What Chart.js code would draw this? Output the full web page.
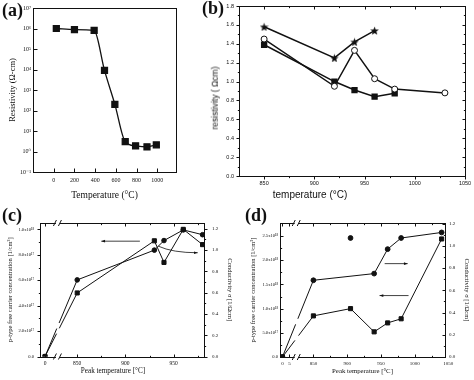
<!DOCTYPE html>
<html>
<head>
<meta charset="utf-8">
<script src="https://cdn.jsdelivr.net/npm/chart.js@4.4.0/dist/chart.umd.min.js"></script>
<style>
  body { margin: 0; background: #fff; }
  #wrap { position: relative; width: 474px; height: 380px; overflow: hidden; }
  canvas { position: absolute; }
  .tag { position: absolute; font-family: 'Liberation Serif', 'DejaVu Serif', serif; font-weight: bold; font-size: 18px; line-height: 1; color: #111; }
  .note { position: absolute; line-height: 1; color: #111; white-space: nowrap; transform: translate(-50%, -50%); }
  .sans { font-family: 'Liberation Sans', Arial, sans-serif; }
  .serif { font-family: 'Liberation Serif', 'DejaVu Serif', serif; }
  .up { transform: translate(-50%, -50%) rotate(-90deg); }
</style>
</head>
<body>
<div id="wrap">
  <canvas id="chart-a" width="237" height="210" style="left:0;top:0"></canvas>
  <canvas id="chart-b" width="274" height="210" style="left:200px;top:0"></canvas>
  <canvas id="chart-c" width="237" height="180" style="left:0;top:200px"></canvas>
  <canvas id="chart-d" width="237" height="180" style="left:237px;top:200px"></canvas>
  <div class="tag" style="left:2px;top:1px">(a)</div>
  <div class="tag" style="left:202px;top:-1px">(b)</div>
  <div class="tag" style="left:2px;top:206px">(c)</div>
  <div class="tag" style="left:245px;top:206px">(d)</div>
  <div class="note sans" style="left:310px;top:195px;font-size:10px">temperature (°C)</div>
  <div class="note sans up" style="left:215px;top:98px;font-size:8.5px">resistivity ( Ωcm)</div>
  <div class="note serif" style="left:113px;top:372px;font-size:7.2px">Peak temperature [°C]</div>
</div>
<script>
// ---- data ----

// (a) resistivity vs temperature, log scale
const aTemps = [25, 200, 390, 490, 590, 690, 790, 900, 990];
const aResistivity = [1.0e6, 8.9e5, 8.0e5, 9.0e3, 200, 3.0, 1.9, 1.7, 2.1];
const aXTicks = [0, 200, 400, 600, 800, 1000];
const aYExponents = [-1, 0, 1, 2, 3, 4, 5, 6, 7];

// (b) resistivity vs temperature, three series
const bStarTemps = [850, 920, 940, 960];
const bStarValues = [1.58, 1.25, 1.42, 1.54];
const bCircleTemps = [850, 920, 940, 960, 980, 1030];
const bCircleValues = [1.45, 0.95, 1.33, 1.03, 0.92, 0.88];
const bSquareTemps = [850, 920, 940, 960, 980];
const bSquareValues = [1.39, 1.0, 0.91, 0.84, 0.875];
const bXTicks = [850, 900, 950, 1000, 1050];
const bYTicks = [0, 0.2, 0.4, 0.6, 0.8, 1.0, 1.2, 1.4, 1.6, 1.8];

// (c) carrier concentration (left) and conductivity (right) vs peak temperature
const cTemps = [0, 850, 930, 940, 960, 980];
const cConcentration = [0, 5.0e17, 9.1e17, 7.4e17, 1.0e18, 8.8e17];
const cConductivity = [0, 0.72, 1.0, 1.09, 1.19, 1.145];
const cXTicks = [0, 850, 900, 950];
const cLeftTicks = [0, 2e17, 4e17, 6e17, 8e17, 1e18];
const cLeftTickLabels = ['0.0', '2.0x10¹⁷', '4.0x10¹⁷', '6.0x10¹⁷', '8.0x10¹⁷', '1.0x10¹⁸'];
const cRightTicks = [0, 0.2, 0.4, 0.6, 0.8, 1.0, 1.2];

// (d) same quantities, second sample
const dTemps = [0, 850, 905, 940, 960, 980, 1040];
const dConcentration = [0, 8.5e17, 1.0e18, 5.2e17, 7.05e17, 7.9e17, 2.44e18];
const dCondTemps = [0, 850, 940, 960, 980, 1040];
const dConductivity = [0, 0.69, 0.75, 0.97, 1.07, 1.12];
const dLoneTemps = [905];
const dLoneConductivity = [1.07];
const dXTicks = [0, 5, 850, 900, 950, 1000, 1050];
const dLeftTicks = [0, 5e17, 1e18, 1.5e18, 2e18, 2.5e18];
const dLeftTickLabels = ['0.0', '5.0x10¹⁷', '1.0x10¹⁸', '1.5x10¹⁸', '2.0x10¹⁸', '2.5x10¹⁸'];
const dRightTicks = [0, 0.2, 0.4, 0.6, 0.8, 1.0, 1.2];

// ---- broken x axes: the low temperatures are squeezed in left of the break ----
const C_ZERO = 816.6, C_BREAK = 830;
const D_ZERO = 804.1, D_STRETCH = 2.07, D_BREAK = 825.3;
const cx = t => t < 100 ? C_ZERO + t : t;
const dx = t => t < 100 ? D_ZERO + t * D_STRETCH : t;

const SERIF = "'Liberation Serif', 'DejaVu Serif', serif";
const SANS = "'Liberation Sans', Arial, sans-serif";
const INK = '#111';

const sup = { '-': '⁻', '0': '⁰', '1': '¹', '2': '²', '3': '³', '4': '⁴', '5': '⁵', '6': '⁶', '7': '⁷', '8': '⁸', '9': '⁹' };
const pow10 = e => '10' + String(e).split('').map(c => sup[c]).join('');

function points(xs, ys, map) {
    return xs.map((x, i) => ({ x: map ? map(x) : x, y: ys[i] }));
}

function fixedTicks(values) {
    return scale => { scale.ticks = values.map(v => ({ value: v })); };
}

function fixSize(w, h) {
    return scale => {
        if (w !== undefined) scale.width = w;
        if (h !== undefined) scale.height = h;
        scale.paddingLeft = scale.paddingRight = scale.paddingTop = scale.paddingBottom = 0;
    };
}

function minorsBetween(values, n) {
    const out = [];
    for (let i = 0; i < values.length - 1; i++) {
        for (let k = 1; k < n; k++) out.push(values[i] + (values[i + 1] - values[i]) * k / n);
    }
    return out;
}

// gap in the first segment where it crosses the axis break
function breakDash(brk) {
    return s => {
        if (s.p0DataIndex !== 0) return undefined;
        const bx = s.chart.scales.x.getPixelForValue(brk);
        const ddx = s.p1.x - s.p0.x, ddy = s.p1.y - s.p0.y;
        const len = Math.hypot(ddx, ddy);
        const d = len * (bx - s.p0.x) / ddx;
        return [d - 3, 6, len];
    };
}

function starImage(size) {
    const c = document.createElement('canvas');
    c.width = c.height = size;
    const g = c.getContext('2d');
    const r = size / 2, ri = r * 0.42;
    g.beginPath();
    for (let i = 0; i < 10; i++) {
        const a = -Math.PI / 2 + i * Math.PI / 5;
        const rr = i % 2 === 0 ? r : ri;
        g.lineTo(r + rr * Math.cos(a), r + 0.5 + rr * Math.sin(a));
    }
    g.closePath();
    g.fillStyle = INK;
    g.fill();
    return c;
}

// frame, tick marks, axis breaks and arrows
const framePlugin = {
    id: 'frame',
    afterDatasetsDraw(chart, args, o) {
        const { ctx, chartArea: a } = chart;
        ctx.save();
        ctx.strokeStyle = INK;
        ctx.lineWidth = 1;
        ctx.strokeRect(Math.round(a.left) + 0.5, Math.round(a.top) + 0.5,
            Math.round(a.right - a.left), Math.round(a.bottom - a.top));

        const mark = (side, p, len) => {
            const horiz = side === 'bottom' || side === 'top';
            if (horiz ? (p < a.left - 1 || p > a.right + 1) : (p < a.top - 1 || p > a.bottom + 1)) return;
            p = Math.round(p) + 0.5;
            const L = Math.round(a.left) + 0.5, R = Math.round(a.right) + 0.5;
            const T = Math.round(a.top) + 0.5, B = Math.round(a.bottom) + 0.5;
            ctx.beginPath();
            if (side === 'bottom') { ctx.moveTo(p, B); ctx.lineTo(p, B - len); }
            if (side === 'top') { ctx.moveTo(p, T); ctx.lineTo(p, T + len); }
            if (side === 'left') { ctx.moveTo(L, p); ctx.lineTo(L + len, p); }
            if (side === 'right') { ctx.moveTo(R, p); ctx.lineTo(R - len, p); }
            ctx.stroke();
        };

        (o.axes || []).forEach(ax => {
            const s = chart.scales[ax.id];
            Object.entries(ax.sides).forEach(([side, len]) => {
                ax.major.forEach(v => mark(side, s.getPixelForValue(v), len));
                (ax.minor || []).forEach(v => mark(side, s.getPixelForValue(v), len * 0.55));
            });
        });

        if (o.breakAt !== undefined) {
            const p = chart.scales.x.getPixelForValue(o.breakAt);
            [a.top, a.bottom].forEach(y => {
                ctx.fillStyle = '#fff';
                ctx.fillRect(p - 2, y - 1.5, 4, 3);
                ctx.beginPath();
                ctx.moveTo(p - 4.5, y + 3); ctx.lineTo(p - 1.5, y - 3);
                ctx.moveTo(p + 0.5, y + 3); ctx.lineTo(p + 3.5, y - 3);
                ctx.stroke();
            });
        }

        (o.arrows || []).forEach(ar => {
            const sx = chart.scales.x, sy = chart.scales[ar.axis || 'y'];
            const x0 = sx.getPixelForValue(ar.from[0]), y0 = sy.getPixelForValue(ar.from[1]);
            const x1 = sx.getPixelForValue(ar.to[0]), y1 = sy.getPixelForValue(ar.to[1]);
            ctx.lineWidth = 0.8;
            ctx.beginPath();
            ctx.moveTo(x0, y0);
            let tx = x1 - x0, ty = y1 - y0;
            if (ar.via) {
                const vx = sx.getPixelForValue(ar.via[0]), vy = sy.getPixelForValue(ar.via[1]);
                ctx.quadraticCurveTo(vx, vy, x1, y1);
                tx = x1 - vx; ty = y1 - vy;
            } else {
                ctx.lineTo(x1, y1);
            }
            ctx.stroke();
            const ang = Math.atan2(ty, tx);
            ctx.fillStyle = INK;
            ctx.beginPath();
            ctx.moveTo(x1, y1);
            ctx.lineTo(x1 - 4 * Math.cos(ang - 0.35), y1 - 4 * Math.sin(ang - 0.35));
            ctx.lineTo(x1 - 4 * Math.cos(ang + 0.35), y1 - 4 * Math.sin(ang + 0.35));
            ctx.closePath();
            ctx.fill();
        });
        ctx.restore();
    }
};

Chart.register(framePlugin);
Chart.defaults.color = INK;
Chart.defaults.animation = false;
Chart.defaults.responsive = false;
Chart.defaults.plugins.legend.display = false;
Chart.defaults.plugins.tooltip.enabled = false;

// tick marks come from the frame plugin, so the library draws none
const noGrid = { display: false, drawTicks: false, tickLength: 0 };
const plain = v => String(v);

// ---------- (a) ----------
new Chart(document.getElementById('chart-a'), {
    type: 'line',
    data: {
        datasets: [{
            data: points(aTemps, aResistivity),
            borderColor: INK,
            borderWidth: 1.3,
            backgroundColor: INK,
            pointStyle: 'rect',
            pointRadius: 4.2,
            tension: 0.4,
            cubicInterpolationMode: 'monotone'
        }]
    },
    options: {
        layout: { padding: { top: 8, right: 61, left: 0, bottom: 0 } },
        scales: {
            x: {
                type: 'linear', min: -200, max: 1180,
                grid: noGrid, border: { display: false },
                afterBuildTicks: fixedTicks(aXTicks),
                afterFit: fixSize(undefined, 38),
                ticks: { font: { family: SERIF, size: 6 }, padding: 5, maxRotation: 0, autoSkip: false, callback: plain },
                title: { display: true, text: 'Temperature (°C)', font: { family: SERIF, size: 9.5 }, padding: { top: 0, bottom: 9.3 } }
            },
            y: {
                type: 'logarithmic', min: 0.1, max: 1e7,
                grid: noGrid, border: { display: false },
                afterBuildTicks: fixedTicks(aYExponents.map(e => Math.pow(10, e))),
                afterFit: fixSize(33),
                ticks: {
                    font: { family: SERIF, size: 6 }, padding: 2, autoSkip: false,
                    callback: v => pow10(Math.round(Math.log10(v)))
                },
                title: { display: true, text: 'Resistivity (Ω-cm)', font: { family: SERIF, size: 8.5 }, padding: { top: 8, bottom: 0 } }
            }
        },
        plugins: {
            frame: {
                axes: [
                    { id: 'x', major: aXTicks, sides: { bottom: 4 } },
                    { id: 'y', major: aYExponents.map(e => Math.pow(10, e)), sides: { left: 4 } }
                ]
            }
        }
    }
});

// ---------- (b) ----------
new Chart(document.getElementById('chart-b'), {
    type: 'line',
    data: {
        datasets: [
            {
                data: points(bStarTemps, bStarValues),
                borderColor: INK, borderWidth: 1.5,
                pointStyle: starImage(9), pointRadius: 4.5
            },
            {
                data: points(bCircleTemps, bCircleValues),
                borderColor: INK, borderWidth: 1.5,
                backgroundColor: '#fff',
                pointStyle: 'circle', pointRadius: 3, pointBorderWidth: 1
            },
            {
                data: points(bSquareTemps, bSquareValues),
                borderColor: INK, borderWidth: 1.5,
                backgroundColor: INK,
                pointStyle: 'rect', pointRadius: 3.4
            }
        ]
    },
    options: {
        layout: { padding: { top: 5, right: 9, left: 0, bottom: 0 } },
        scales: {
            x: {
                type: 'linear', min: 825, max: 1050,
                grid: noGrid, border: { display: false },
                afterBuildTicks: fixedTicks(bXTicks),
                afterFit: fixSize(undefined, 34),
                ticks: { font: { family: SANS, size: 5.5 }, padding: 4, maxRotation: 0, autoSkip: false, callback: plain }
            },
            y: {
                type: 'linear', min: 0, max: 1.8,
                grid: noGrid, border: { display: false },
                afterBuildTicks: fixedTicks(bYTicks),
                afterFit: fixSize(39),
                ticks: { font: { family: SANS, size: 5.5 }, padding: 5, autoSkip: false, callback: v => v.toFixed(1) }
            }
        },
        plugins: {
            frame: {
                axes: [
                    { id: 'x', major: bXTicks, minor: [875, 925, 975, 1025], sides: { bottom: -3, top: 3 } },
                    { id: 'y', major: bYTicks, minor: minorsBetween(bYTicks, 2), sides: { left: -3, right: 3 } }
                ]
            }
        }
    }
});

// ---------- (c) ----------
new Chart(document.getElementById('chart-c'), {
    type: 'line',
    data: {
        datasets: [
            {
                data: points(cTemps, cConcentration, cx),
                yAxisID: 'y',
                borderColor: INK, borderWidth: 1,
                backgroundColor: INK,
                pointStyle: 'rect', pointRadius: 2.9,
                segment: { borderDash: breakDash(C_BREAK) }
            },
            {
                data: points(cTemps, cConductivity, cx),
                yAxisID: 'y2',
                borderColor: INK, borderWidth: 1,
                backgroundColor: INK,
                pointStyle: 'circle', pointRadius: 2.3,
                segment: { borderDash: breakDash(C_BREAK) }
            }
        ]
    },
    options: {
        layout: { padding: { top: 23, right: 0, left: 0, bottom: 0 } },
        scales: {
            x: {
                type: 'linear', min: 811.4, max: 981.5,
                grid: noGrid, border: { display: false },
                afterBuildTicks: fixedTicks(cXTicks.map(cx)),
                afterFit: fixSize(undefined, 23.5),
                ticks: { font: { family: SERIF, size: 5.5 }, padding: 4, maxRotation: 0, autoSkip: false, callback: (v, i) => String(cXTicks[i]) }
            },
            y: {
                type: 'linear', position: 'left', min: 0, max: 1.05e18,
                grid: noGrid, border: { display: false },
                afterBuildTicks: fixedTicks(cLeftTicks),
                afterFit: fixSize(40),
                ticks: { font: { family: SERIF, size: 4.6 }, padding: 6, autoSkip: false, callback: (v, i) => cLeftTickLabels[i] },
                title: { display: true, text: 'p-type free carrier concentration [1/cm³]', font: { family: SERIF, size: 6.5 }, padding: { top: 6.6, bottom: 0 } }
            },
            y2: {
                type: 'linear', position: 'right', min: 0, max: 1.255,
                grid: noGrid, border: { display: false },
                afterBuildTicks: fixedTicks(cRightTicks),
                afterFit: fixSize(33),
                ticks: { font: { family: SERIF, size: 5 }, padding: 8, autoSkip: false, callback: v => v.toFixed(1) },
                title: { display: true, text: 'Conductivity σ [1/Ωcm]', font: { family: SERIF, size: 6.5 }, padding: { top: 3.1, bottom: 0 } }
            }
        },
        plugins: {
            frame: {
                breakAt: C_BREAK,
                axes: [
                    { id: 'x', major: cXTicks.map(cx), minor: [875, 925, 975], sides: { bottom: 3, top: 3 } },
                    { id: 'y', major: cLeftTicks, minor: minorsBetween(cLeftTicks, 2), sides: { left: -3 } },
                    { id: 'y2', major: cRightTicks, minor: minorsBetween(cRightTicks, 2), sides: { right: -3 } }
                ],
                arrows: [
                    { from: [915, 9.07e17], to: [875, 9.07e17] },
                    { from: [934, 8.68e17], via: [949, 8.16e17], to: [975, 8.16e17] }
                ]
            }
        }
    }
});

// ---------- (d) ----------
new Chart(document.getElementById('chart-d'), {
    type: 'line',
    data: {
        datasets: [
            {
                data: points(dTemps, dConcentration, dx),
                yAxisID: 'y',
                borderColor: INK, borderWidth: 1,
                backgroundColor: INK,
                pointStyle: 'rect', pointRadius: 2.9,
                segment: { borderDash: breakDash(D_BREAK) }
            },
            {
                data: points(dCondTemps, dConductivity, dx),
                yAxisID: 'y2',
                borderColor: INK, borderWidth: 1,
                backgroundColor: INK,
                pointStyle: 'circle', pointRadius: 2.4,
                segment: { borderDash: breakDash(D_BREAK) }
            },
            {
                data: points(dLoneTemps, dLoneConductivity, dx),
                yAxisID: 'y2',
                showLine: false,
                backgroundColor: INK, borderColor: INK,
                pointStyle: 'circle', pointRadius: 2.4
            }
        ]
    },
    options: {
        layout: { padding: { top: 23, right: 0, left: 0, bottom: 0 } },
        scales: {
            x: {
                type: 'linear', min: 800.5, max: 1045,
                grid: noGrid, border: { display: false },
                afterBuildTicks: fixedTicks(dXTicks.map(dx)),
                afterFit: fixSize(undefined, 23),
                ticks: { font: { family: SERIF, size: 5 }, padding: 4, maxRotation: 0, autoSkip: false, callback: (v, i) => String(dXTicks[i]) },
                title: { display: true, text: 'Peak temperature [°C]', font: { family: SERIF, size: 6.8 }, padding: { top: 0, bottom: 4.3 } }
            },
            y: {
                type: 'linear', position: 'left', min: 0, max: 2.77e18,
                grid: noGrid, border: { display: false },
                afterBuildTicks: fixedTicks(dLeftTicks),
                afterFit: fixSize(43),
                ticks: { font: { family: SERIF, size: 4.6 }, padding: 2, autoSkip: false, callback: (v, i) => dLeftTickLabels[i] },
                title: { display: true, text: 'p-type free carrier concentration [1/cm³]', font: { family: SERIF, size: 6.5 }, padding: { top: 12, bottom: 0 } }
            },
            y2: {
                type: 'linear', position: 'right', min: 0, max: 1.205,
                grid: noGrid, border: { display: false },
                afterBuildTicks: fixedTicks(dRightTicks),
                afterFit: fixSize(29),
                ticks: { font: { family: SERIF, size: 5 }, padding: 4, autoSkip: false, callback: v => v.toFixed(1) },
                title: { display: true, text: 'Conductivity σ [1/Ωcm]', font: { family: SERIF, size: 6.5 }, padding: { top: 3.1, bottom: 0 } }
            }
        },
        plugins: {
            frame: {
                breakAt: D_BREAK,
                axes: [
                    { id: 'x', major: dXTicks.map(dx), minor: [875, 925, 975, 1025], sides: { bottom: 3, top: 3 } },
                    { id: 'y', major: dLeftTicks, minor: minorsBetween(dLeftTicks, 2), sides: { left: 3 } },
                    { id: 'y2', major: dRightTicks, minor: minorsBetween(dRightTicks, 2), sides: { right: 3 } }
                ],
                arrows: [
                    { from: [955.6, 1.93e18], to: [989.7, 1.93e18] },
                    { from: [991, 1.27e18], to: [948, 1.27e18] }
                ]
            }
        }
    }
});
</script>
</body>
</html>
